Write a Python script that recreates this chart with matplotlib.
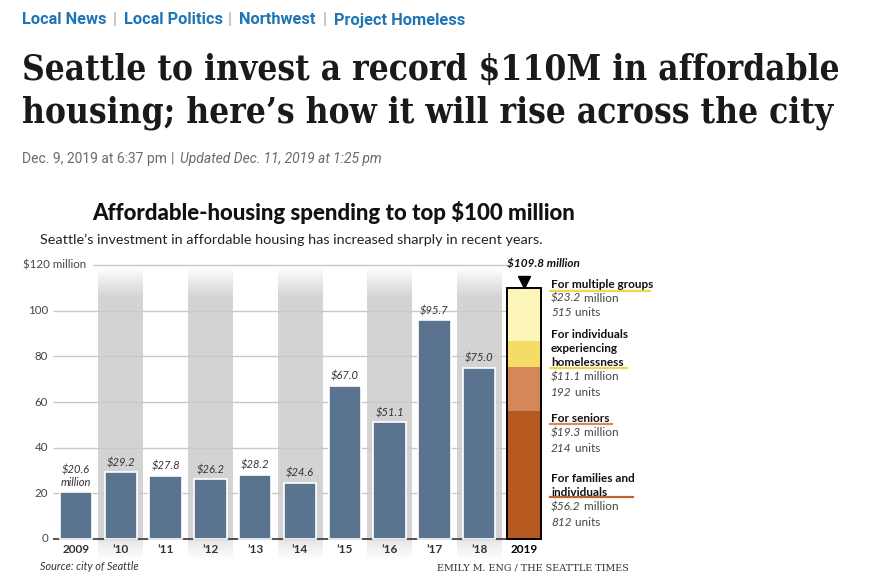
import numpy as np
import matplotlib
matplotlib.use("Agg")
import matplotlib.pyplot as plt

# data
years = ["2009", "\u201910", "\u201911", "\u201912", "\u201913", "\u201914",
         "\u201915", "\u201916", "\u201917", "\u201918", "2019"]
spending = [20.6, 29.2, 27.8, 26.2, 28.2, 24.6, 67.0, 51.1, 95.7, 75.0]
value_labels = ["$20.6\nmillion", "$29.2", "$27.8", "$26.2", "$28.2", "$24.6",
                "$67.0", "$51.1", "$95.7", "$75.0"]
seg_names = ["For families and\nindividuals", "For seniors",
             "For individuals\nexperiencing\nhomelessness", "For multiple groups"]
seg_values = [56.2, 19.3, 11.1, 23.2]
seg_units = ["812", "214", "192", "515"]
seg_colors = ["#b65a22", "#d3875a", "#f4dc66", "#fcf6b8"]
line_colors = ["#c4642e", "#d98a5e", "#f0d84a", "#f0d84a"]
yticks = [0, 20, 40, 60, 80, 100]
sections = ["Local News", "Local Politics", "Northwest", "Project Homeless"]

W, H = 876, 588
fig = plt.figure(figsize=(W / 100, H / 100), dpi=100)
fig.patch.set_facecolor("white")
rend = fig.canvas.get_renderer()


def ft(x, y, s, **kw):
    # place text in pixel coords (top-left origin)
    return fig.text(x / W, 1 - y / H, s, **kw)


def width(t):
    return t.get_window_extent(rend).width


def fit(t, w):
    t.set_fontsize(t.get_fontsize() * w / width(t))


def runs(x, y, parts, **kw):
    # draw consecutive text pieces with different styles on one line
    for s, extra in parts:
        t = ft(x, y, s, **kw, **extra)
        x += width(t)


# page header
hdr_blue = "#1f74b5"
hk = dict(color=hdr_blue, fontsize=11.8, fontweight="bold", family="Roboto", va="center")
sk = dict(color="#aaaaaa", fontsize=12, family="Roboto", va="center")
sec_x = [22, 124, 239, 334]
sep_x = [113, 228, 323]
for x, s in zip(sec_x, sections):
    ft(x, 20, s, **hk)
for x in sep_x:
    ft(x, 20, "|", **sk)

t1 = ft(22, 70, "Seattle to invest a record $110M in affordable", color="#1a1a1a",
        fontsize=27, fontweight="bold", family="DejaVu Serif",
        fontstretch="condensed", va="center")
fit(t1, 816)
ft(22, 113, "housing; here\u2019s how it will rise across the city", color="#1a1a1a",
   fontsize=t1.get_fontsize(), fontweight="bold", family="DejaVu Serif",
   fontstretch="condensed", va="center")

dk = dict(color="#6b6b6b", fontsize=10, family="Roboto", va="center")
ft(22, 159, "Dec. 9, 2019 at 6:37 pm", **dk)
ft(171, 159, "|", **dk)
ft(180, 159, "Updated Dec. 11, 2019 at 1:25 pm", style="italic", **dk)

# chart titles
cf = "Lato"
tt = ft(92, 213, "Affordable-housing spending to top $100 million", color="#111111",
        fontsize=15, fontweight="black", family=cf, va="center")
fit(tt, 488)
st = ft(40, 240, "Seattle\u2019s investment in affordable housing has increased sharply in recent years.",
        color="#222222", fontsize=10.5, family=cf, va="center")
fit(st, 505)

# axes: x index -> px 76 + 44.8*i, y 0 -> px 539, 120 -> px 265
ppu = (539 - 265) / 120.0
x0, x1 = -0.51, 10.5
y0, y1 = -10, 125
left = 76 + 44.8 * x0
right = 76 + 44.8 * x1
bot = 539 + (0 - y0) * ppu
top = 539 - y1 * ppu
ax = fig.add_axes([left / W, 1 - bot / H, (right - left) / W, (bot - top) / H])
for s in ax.spines.values():
    s.set_visible(False)

# grey alternating bands with faded ends
yy = np.linspace(-9, 119, 300)
alpha = np.ones_like(yy)
alpha = np.where(yy > 106, (119 - yy) / 13.0, alpha)
alpha = np.where(yy < -0.5, 0.55 * (yy + 9) / 8.5, alpha)
grad = np.zeros((len(yy), 1, 4))
grad[:, 0, :3] = 0.83
grad[:, 0, 3] = np.clip(alpha, 0, 1)
for i in range(1, 10, 2):
    ax.imshow(grad, extent=(i - 0.5, i + 0.5, -9, 119), origin="lower",
              aspect="auto", zorder=0, interpolation="bilinear")

# gridlines
bar_left = 10 - 0.39
for t in yticks[1:]:
    ax.hlines(t, x0, bar_left, color="#c9c9c9", lw=1, zorder=1)
ax.hlines(120, (93 - 76) / 44.8, bar_left, color="#c9c9c9", lw=1, zorder=1)
ax.hlines(0, x0, bar_left, color="#444444", lw=1.3, zorder=1.5)

# blue bars
xs = np.arange(len(spending))
ax.bar(xs, spending, width=0.72, color="#5a7490", edgecolor="white", lw=1.2, zorder=2)
for x, v, lab in zip(xs, spending, value_labels):
    ax.annotate(lab, (x, v), xytext=(0, 3), textcoords="offset points",
                ha="center", va="bottom", fontsize=8, style="italic",
                color="#333333", family=cf, linespacing=1.1)

# stacked 2019 bar
bottom = 0
for v, c in zip(seg_values, seg_colors):
    ax.bar(10, v, bottom=bottom, width=0.76, color=c, lw=0, zorder=2)
    bottom += v
total = sum(seg_values)
ax.bar(10, total, width=0.76, fill=False, edgecolor="black", lw=1.4, zorder=3)
ax.plot([10], [total + 2.6], marker="v", color="black", markersize=8, zorder=3,
        clip_on=False)
ax.text(9.62, 120.5, "$%.1f million" % total, fontsize=8.5, fontweight="bold",
        style="italic", family=cf, color="#111111", va="center", ha="left")

ax.set_xlim(x0, x1)
ax.set_ylim(y0, y1)

# axis labels
ax.set_yticks([])
ax.set_xticks([])
for t in yticks:
    ax.text((48 - 76) / 44.8, t, str(t), ha="right", va="center", fontsize=8.3,
            color="#444444", family=cf)
ax.text((86 - 76) / 44.8, 120, "$120 million", ha="right", va="center",
        fontsize=8.3, color="#444444", family=cf)
for i, lab in enumerate(years):
    ax.text(i, -4.4, lab, ha="center", va="center", fontsize=8.5,
            fontweight="bold", family=cf,
            color="black" if i == 10 else "#333333")

# legend text to the right of the stacked bar
legend_rows = [
    # (label line ys, underline y, underline x end, amount y, units y)
    ([478, 492], 497, 633, 507, 522),
    ([418], 424, 612, 433, 448),
    ([334, 348, 362], 368, 627, 377, 392),
    ([284], 291, 650, 298, 313),
]
lk = dict(fontsize=8.5, family=cf, va="center")
for k, (name, v, u) in enumerate(zip(seg_names, seg_values, seg_units)):
    ys, uy, ux, ny, vy = legend_rows[k]
    for line, y in zip(name.split("\n"), ys):
        ft(551, y, line, fontweight="bold", color="#111111", **lk)
    fig.add_artist(plt.Line2D([550 / W, ux / W], [1 - uy / H, 1 - uy / H],
                              color=line_colors[k], lw=1.6))
    runs(551, ny, [("$%.1f" % v, dict(style="italic")), (" million", {})],
         color="#444444", **lk)
    runs(551, vy, [(u, dict(style="italic")), (" units", {})],
         color="#444444", **lk)

# footer
ft(40, 567, "Source: city of Seattle", fontsize=7.8, style="italic", family=cf,
   color="#333333", va="center")
cr = ft(437, 568, "EMILY M. ENG / THE SEATTLE TIMES", fontsize=7, family="DejaVu Serif",
        color="#333333", va="center")
fit(cr, 194)

fig.savefig("out.png", dpi=100, facecolor="white")
